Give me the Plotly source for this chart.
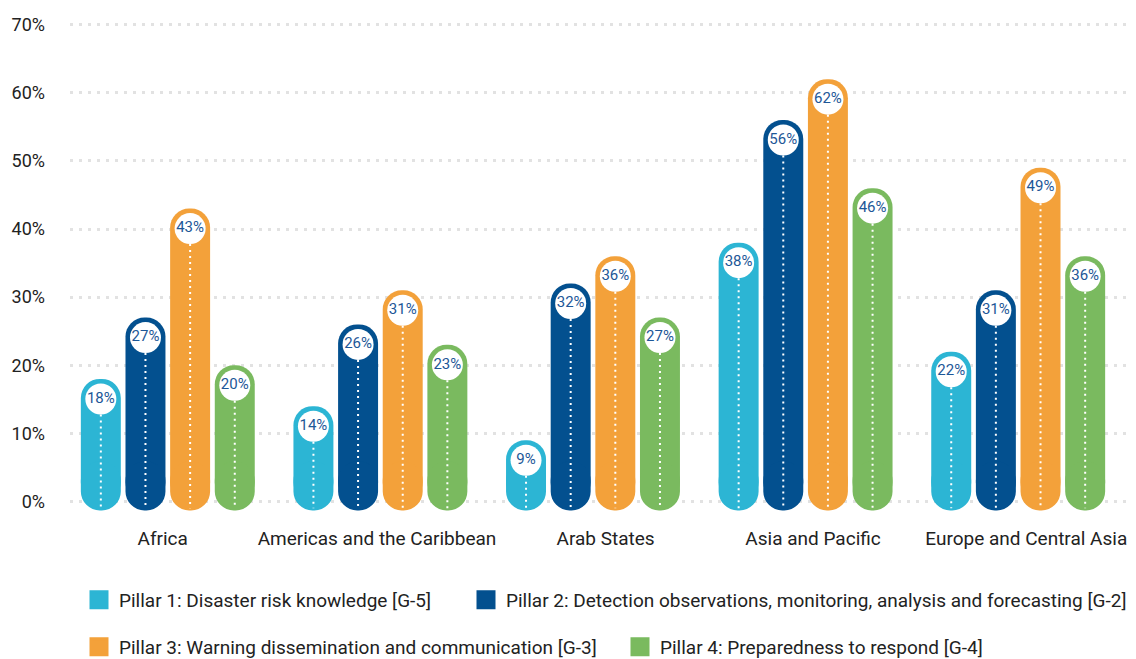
import plotly.graph_objects as go

regions = ["Africa", "Americas and the Caribbean", "Arab States", "Asia and Pacific", "Europe and Central Asia"]
pillars = [
    "Pillar 1: Disaster risk knowledge [G-5]",
    "Pillar 2: Detection observations, monitoring, analysis and forecasting [G-2]",
    "Pillar 3: Warning dissemination and communication [G-3]",
    "Pillar 4: Preparedness to respond [G-4]",
]
pillar1 = [18, 14, 9, 38, 22]
pillar2 = [27, 26, 32, 56, 31]
pillar3 = [43, 31, 36, 62, 49]
pillar4 = [20, 23, 27, 46, 36]
y_ticks = [0, 10, 20, 30, 40, 50, 60, 70]

series = [pillar1, pillar2, pillar3, pillar4]
colors = ["#2cb5d4", "#03508f", "#f3a13a", "#7aba5f"]
label_color = "#1d5797"
FONT = "Roboto"

# layout geometry (the page body adds an 8px offset, so the figure is 8px smaller)
W, H = 1128, 651
PX_PER_UNIT_Y = 511 / 75.0
bar_w = 0.188
offsets = [-0.315, -0.105, 0.105, 0.315]
label_shift = [-0.024, -0.016, 0.059, 0.035, 0.038]   # category label nudges
cap_units = 20 / PX_PER_UNIT_Y       # bar half width in y units
circ_d = 31
bottom_ext = 1.3                     # pill extends below zero

# legend placement (figure pixels: left edge, vertical centre)
legend_pos = [(71, 592), (458, 592), (71, 639), (612, 639)]
legend_ids = ["legend", "legend2", "legend3", "legend4"]

fig = go.Figure()
for k, vals in enumerate(series):
    xs = [i + offsets[k] for i in range(len(regions))]
    # main bar (rounded top)
    fig.add_trace(go.Bar(x=xs, y=vals, base=0, width=bar_w,
                         marker=dict(color=colors[k], cornerradius=20, line=dict(width=0)),
                         showlegend=False, hoverinfo="skip"))
    # bottom cap (rounded bottom)
    fig.add_trace(go.Bar(x=xs, y=[-(bottom_ext + 2 * cap_units)] * len(xs), base=[2 * cap_units] * len(xs),
                         width=bar_w, marker=dict(color=colors[k], cornerradius=20, line=dict(width=0)),
                         showlegend=False, hoverinfo="skip"))
    # dotted white line
    lx, ly = [], []
    for x, v in zip(xs, vals):
        lx += [x, x, None]
        ly += [v - cap_units - (circ_d / 2) / PX_PER_UNIT_Y, -bottom_ext + 0.3, None]
    fig.add_trace(go.Scatter(x=lx, y=ly, mode="lines", line=dict(color="white", width=2, dash="2px,4px"),
                             showlegend=False, hoverinfo="skip"))
    # white circle label
    fig.add_trace(go.Scatter(x=xs, y=[v - cap_units for v in vals], mode="markers+text",
                             marker=dict(size=circ_d, color="white", line=dict(width=0)),
                             text=[f"{v}%" for v in vals], textposition="middle center",
                             textfont=dict(family=FONT, size=15, color=label_color),
                             showlegend=False, hoverinfo="skip"))

# legend entries, one legend per entry
legend_layout = {}
for k in range(4):
    fig.add_trace(go.Scatter(x=[None], y=[None], mode="markers", name=pillars[k],
                             marker=dict(symbol="square", size=16, color=colors[k],
                                         line=dict(width=3, color=colors[k])),
                             legend=legend_ids[k]))
    lx, ly = legend_pos[k]
    legend_layout[legend_ids[k]] = dict(
        orientation="h", xref="container", yref="container",
        x=lx / W, xanchor="left", y=1 - ly / H, yanchor="middle",
        font=dict(size=19, color="#222222"), itemclick=False, itemdoubleclick=False,
        bgcolor="rgba(0,0,0,0)", borderwidth=0)

fig.update_layout(
    width=W, height=H,
    margin=dict(l=62, r=3, t=3, b=137, autoexpand=False),
    barmode="overlay",
    plot_bgcolor="white", paper_bgcolor="white",
    font=dict(family=FONT, size=17, color="#222222"),
    xaxis=dict(range=[-0.46, 4.54], tickvals=[i + s for i, s in enumerate(label_shift)], ticktext=regions,
               showgrid=False, zeroline=False, showline=False, ticks="", ticklabelstandoff=3,
               tickfont=dict(size=19)),
    yaxis=dict(range=[-3, 72], tickvals=y_ticks, ticktext=[f"{t}%" for t in y_ticks],
               showgrid=True, gridcolor="#e2e2e2", gridwidth=3, griddash="3px,6px",
               zeroline=False, showline=False, ticks="", ticklabelstandoff=24, tickfont=dict(size=18)),
    **legend_layout,
)

fig.write_html("out.html")
